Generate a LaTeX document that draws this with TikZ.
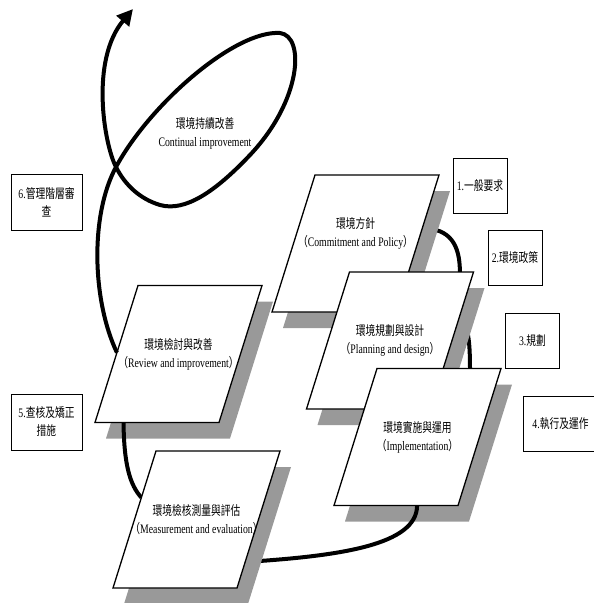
\documentclass[tikz,border=0pt]{standalone}
\usepackage{fontspec}
\setmainfont{Liberation Serif}
\newfontfamily\cjk{Noto Sans CJK TC}
\usepackage{graphicx}
\usetikzlibrary{shadows,arrows.meta,calc,positioning}
\pgfdeclarelayer{low}
\pgfdeclarelayer{background}
\pgfdeclarelayer{front}
\pgfsetlayers{low,background,main,front}
\newcommand{\narrow}[1]{\scalebox{0.75}[1]{#1}}
\tikzset{
  stagebox/.style={draw, line width=1.3pt, fill=white, line join=miter,
    drop shadow={shadow xshift=11pt, shadow yshift=-16pt, fill=black!40, opacity=1}},
  stagetext/.style={align=center, inner sep=0},
  stage/.pic={
    \filldraw[stagebox] (-40.5,-68.5) coordinate (-tl) -- (83.5,-68.5) coordinate (-tr)
      -- (40.5,68.5) coordinate (-br) -- (-83.5,68.5) coordinate (-bl) -- cycle;
    \node[stagetext] (-text) at (0,0) {#1};
  },
  tag/.style={draw, line width=0.8pt, minimum width=54, minimum height=55, inner sep=0, align=center},
  cycle/.style={line width=4pt}
}
\begin{document}
\begin{tikzpicture}[x=1pt,y=-1pt,font=\fontsize{13}{18}\selectfont]
  \useasboundingbox (0,0) rectangle (594,603);
  % stages of the cycle
  \begin{pgfonlayer}{background}
  \pic (policy) at (355.5,243.5) {stage={\narrow{\cjk 環境方針}\\\narrow{{\cjk （}Commitment and Policy{\cjk ）}}\\[6pt]}};
  \pic (planning) at (390,340.5) {stage={\narrow{\cjk 環境規劃與設計}\\\narrow{{\cjk （}Planning and design{\cjk ）}}}};
  \pic (impl) at (417.5,437) {stage={\narrow{\cjk 環境實施與運用}\\\narrow{{\cjk （}Implementation{\cjk ）}}}};
  \pic (review) at (178.5,354) {stage={\narrow{\cjk 環境檢討與改善}\\\narrow{{\cjk （}Review and improvement{\cjk ）}}}};
  \end{pgfonlayer}
  \begin{pgfonlayer}{front}
  \pic (meas) at (196.5,519.5) {stage={\narrow{\cjk 環境檢核測量與評估}\\\narrow{{\cjk （}Measurement and evaluation{\cjk ）}}}};
  \end{pgfonlayer}
  \node[align=center] (cont) at (205,133) {\narrow{\cjk 環境持續改善}\\\narrow{Continual improvement}};
  % numbered steps
  \node[tag] (s1) at (480,185.5) {\narrow{1.{\cjk 一般要求}}};
  \node[tag] (s2) at (515,257.5) {\narrow{2.{\cjk 環境政策}}};
  \node[tag] (s3) at (532.5,340.5) {\narrow{3.{\cjk 規劃}}};
  \node[tag, minimum width=75] (s4) at (560.5,423.5) {\narrow{4.{\cjk 執行及運作}}};
  \node[tag, minimum width=71, minimum height=56] (s5) at (46.5,422) {\narrow{5.{\cjk 查核及矯正}}\\\narrow{\cjk 措施}};
  \node[tag, minimum width=71, minimum height=56] (s6) at (46.5,202) {\narrow{6.{\cjk 管理階層審}}\\\narrow{\cjk 查}};
  % thick links
  \begin{pgfonlayer}{low}
  \draw[cycle] ($(policy-tr)!0.39!(policy-br)$)
    .. controls (450,228) and (460,245) .. ($(planning-tl)!0.89!(planning-tr)$);
  \draw[cycle] ($(planning-tr)!0.35!(planning-br)$)
    .. controls (467,322) and (470,335) .. ($(impl-tl)!0.75!(impl-tr)$);
  \end{pgfonlayer}
  \draw[cycle] ($(impl-bl)!0.67!(impl-br)$)
    .. controls (417,545) and (340,556) .. ($(meas-tr)!0.81!(meas-br)$);
  \draw[cycle] ($(review-bl)!0.23!(review-br)$)
    .. controls (124,465) and (130,485) .. ($(meas-tl)!0.34!(meas-bl)$);
  \draw[cycle, -{Triangle[length=16pt,width=16pt]}] ($(review-tl)!0.49!(review-bl)$)
    .. controls (92,300) and (90,215) .. (116,167)
    .. controls (150,104) and (235,30) .. (280,33)
    .. controls (305,36) and (302,100) .. (250,155)
    .. controls (215,192) and (185,212) .. (160,205)
    .. controls (140,199) and (125,185) .. (116,167)
    .. controls (104,144) and (90,60) .. (133,9);
\end{tikzpicture}
\end{document}
